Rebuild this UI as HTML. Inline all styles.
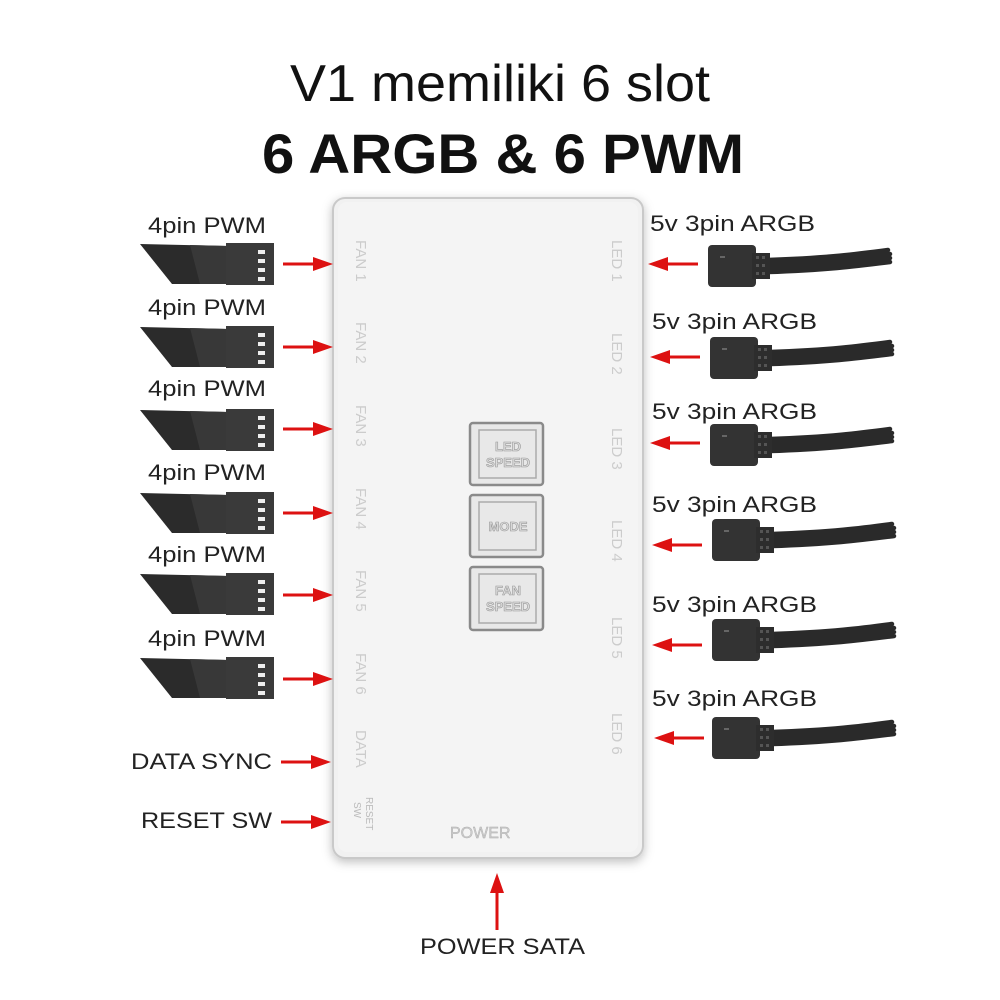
<!DOCTYPE html>
<html><head><meta charset="utf-8"><style>
html,body{margin:0;padding:0;background:#fff}
svg{display:block}
text{font-family:"Liberation Sans",sans-serif}
</style></head><body>
<svg width="1000" height="1000" viewBox="0 0 1000 1000" xmlns="http://www.w3.org/2000/svg">
<defs>
<filter id="sh" x="-10%" y="-10%" width="120%" height="120%"><feDropShadow dx="0" dy="3" stdDeviation="5" flood-color="#000" flood-opacity="0.25"/></filter>
<g id="pwm">
  <polygon points="0,-20 88,-18 88,20 32,20" fill="#2b2b2b"/>
  <polygon points="50,-19 88,-18 88,20 60,20" fill="#383838"/>
  <rect x="86" y="-21" width="48" height="42" fill="#3a3a3a"/>
  <rect x="118" y="-14" width="7" height="4" fill="#eee"/>
  <rect x="118" y="-5" width="7" height="4" fill="#eee"/>
  <rect x="118" y="4" width="7" height="4" fill="#eee"/>
  <rect x="118" y="13" width="7" height="4" fill="#eee"/>
</g>
<g id="argb">
  <path d="M60,-6 C120,-8 150,-12 180,-16 M60,-2 C120,-4 150,-8 182,-12 M60,2 C120,0 150,-4 182,-8 M60,6 C120,4 150,0 182,-4" stroke="#2a2a2a" stroke-width="4.5" fill="none" stroke-linecap="round"/>
  <rect x="0" y="-21" width="48" height="42" rx="4" fill="#333"/>
  <rect x="44" y="-13" width="18" height="26" fill="#2d2d2d"/>
  <rect x="48" y="-10" width="3" height="3" fill="#555"/><rect x="54" y="-10" width="3" height="3" fill="#555"/>
  <rect x="48" y="-2" width="3" height="3" fill="#555"/><rect x="54" y="-2" width="3" height="3" fill="#555"/>
  <rect x="48" y="6" width="3" height="3" fill="#555"/><rect x="54" y="6" width="3" height="3" fill="#555"/>
  <rect x="12" y="-10" width="5" height="2" fill="#666"/>
</g>
<g id="ar">
  <line x1="0" y1="0" x2="34" y2="0" stroke="#d11" stroke-width="3"/>
  <polygon points="30,-7 50,0 30,7" fill="#d11"/>
</g>
<g id="al">
  <line x1="16" y1="0" x2="50" y2="0" stroke="#d11" stroke-width="3"/>
  <polygon points="20,-7 0,0 20,7" fill="#d11"/>
</g>
</defs>

<text x="500" y="101" text-anchor="middle" font-size="52" fill="#111" textLength="420" lengthAdjust="spacingAndGlyphs">V1 memiliki 6 slot</text>
<text x="503" y="173" text-anchor="middle" font-size="56" font-weight="bold" fill="#111" textLength="482" lengthAdjust="spacingAndGlyphs">6 ARGB &amp; 6 PWM</text>

<!-- board -->
<rect x="333" y="198" width="310" height="660" rx="12" fill="#f1f1f1" stroke="#c9c9c9" stroke-width="2" filter="url(#sh)"/>
<rect x="338" y="202" width="300" height="650" rx="9" fill="#f4f4f4"/>

<!-- buttons -->
<g fill="#e8e8e8" stroke="#8a8a8a" stroke-width="2.5">
<rect x="470" y="423" width="73" height="62" rx="3"/>
<rect x="470" y="495" width="73" height="62" rx="3"/>
<rect x="470" y="567" width="73" height="63" rx="3"/>
</g>
<g fill="none" stroke="#aaa" stroke-width="1.5">
<rect x="479" y="430" width="57" height="48"/>
<rect x="479" y="502" width="57" height="48"/>
<rect x="479" y="574" width="57" height="49"/>
</g>
<g font-size="13" fill="#ddd" stroke="#999" stroke-width="0.6" text-anchor="middle" font-weight="bold">
<text x="508" y="451">LED</text><text x="508" y="467">SPEED</text>
<text x="508" y="531">MODE</text>
<text x="508" y="595">FAN</text><text x="508" y="611">SPEED</text>
</g>

<!-- board side labels -->
<g font-size="15" fill="#ccc" font-family="Liberation Serif">
<text transform="translate(356,240) rotate(90)">FAN 1</text>
<text transform="translate(356,322) rotate(90)">FAN 2</text>
<text transform="translate(356,405) rotate(90)">FAN 3</text>
<text transform="translate(356,488) rotate(90)">FAN 4</text>
<text transform="translate(356,570) rotate(90)">FAN 5</text>
<text transform="translate(356,653) rotate(90)">FAN 6</text>
<text transform="translate(356,730) rotate(90)">DATA</text>
<text transform="translate(612,240) rotate(90)">LED 1</text>
<text transform="translate(612,333) rotate(90)">LED 2</text>
<text transform="translate(612,428) rotate(90)">LED 3</text>
<text transform="translate(612,520) rotate(90)">LED 4</text>
<text transform="translate(612,617) rotate(90)">LED 5</text>
<text transform="translate(612,713) rotate(90)">LED 6</text>
<text x="450" y="838" font-size="16" fill="#ccc" stroke="#aaa" stroke-width="0.4">POWER</text>
</g>
<g font-size="10" fill="#bbb" font-family="Liberation Serif">
<text transform="translate(366,797) rotate(90)">RESET</text>
<text transform="translate(354,802) rotate(90)">SW</text>
</g>

<!-- left side -->
<g font-size="22" fill="#222">
<text x="148" y="233" textLength="118" lengthAdjust="spacingAndGlyphs">4pin PWM</text>
<text x="148" y="315" textLength="118" lengthAdjust="spacingAndGlyphs">4pin PWM</text>
<text x="148" y="396" textLength="118" lengthAdjust="spacingAndGlyphs">4pin PWM</text>
<text x="148" y="480" textLength="118" lengthAdjust="spacingAndGlyphs">4pin PWM</text>
<text x="148" y="562" textLength="118" lengthAdjust="spacingAndGlyphs">4pin PWM</text>
<text x="148" y="646" textLength="118" lengthAdjust="spacingAndGlyphs">4pin PWM</text>
<text x="131" y="769" textLength="141" lengthAdjust="spacingAndGlyphs">DATA SYNC</text>
<text x="141" y="828" textLength="131" lengthAdjust="spacingAndGlyphs">RESET SW</text>
</g>
<use href="#pwm" x="140" y="264"/>
<use href="#pwm" x="140" y="347"/>
<use href="#pwm" x="140" y="430"/>
<use href="#pwm" x="140" y="513"/>
<use href="#pwm" x="140" y="594"/>
<use href="#pwm" x="140" y="678"/>
<use href="#ar" x="283" y="264"/>
<use href="#ar" x="283" y="347"/>
<use href="#ar" x="283" y="429"/>
<use href="#ar" x="283" y="513"/>
<use href="#ar" x="283" y="595"/>
<use href="#ar" x="283" y="679"/>
<use href="#ar" x="281" y="762"/>
<use href="#ar" x="281" y="822"/>

<!-- right side -->
<g font-size="22" fill="#222">
<text x="650" y="231" textLength="165" lengthAdjust="spacingAndGlyphs">5v 3pin ARGB</text>
<text x="652" y="329" textLength="165" lengthAdjust="spacingAndGlyphs">5v 3pin ARGB</text>
<text x="652" y="419" textLength="165" lengthAdjust="spacingAndGlyphs">5v 3pin ARGB</text>
<text x="652" y="512" textLength="165" lengthAdjust="spacingAndGlyphs">5v 3pin ARGB</text>
<text x="652" y="612" textLength="165" lengthAdjust="spacingAndGlyphs">5v 3pin ARGB</text>
<text x="652" y="706" textLength="165" lengthAdjust="spacingAndGlyphs">5v 3pin ARGB</text>
</g>
<use href="#argb" x="708" y="266"/>
<use href="#argb" x="710" y="358"/>
<use href="#argb" x="710" y="445"/>
<use href="#argb" x="712" y="540"/>
<use href="#argb" x="712" y="640"/>
<use href="#argb" x="712" y="738"/>
<use href="#al" x="648" y="264"/>
<use href="#al" x="650" y="357"/>
<use href="#al" x="650" y="443"/>
<use href="#al" x="652" y="545"/>
<use href="#al" x="652" y="645"/>
<use href="#al" x="654" y="738"/>

<!-- power -->
<line x1="497" y1="930" x2="497" y2="890" stroke="#d11" stroke-width="3"/>
<polygon points="490,893 497,873 504,893" fill="#d11"/>
<text x="420" y="954" font-size="22" fill="#222" textLength="165" lengthAdjust="spacingAndGlyphs">POWER SATA</text>
</svg>
</body></html>
